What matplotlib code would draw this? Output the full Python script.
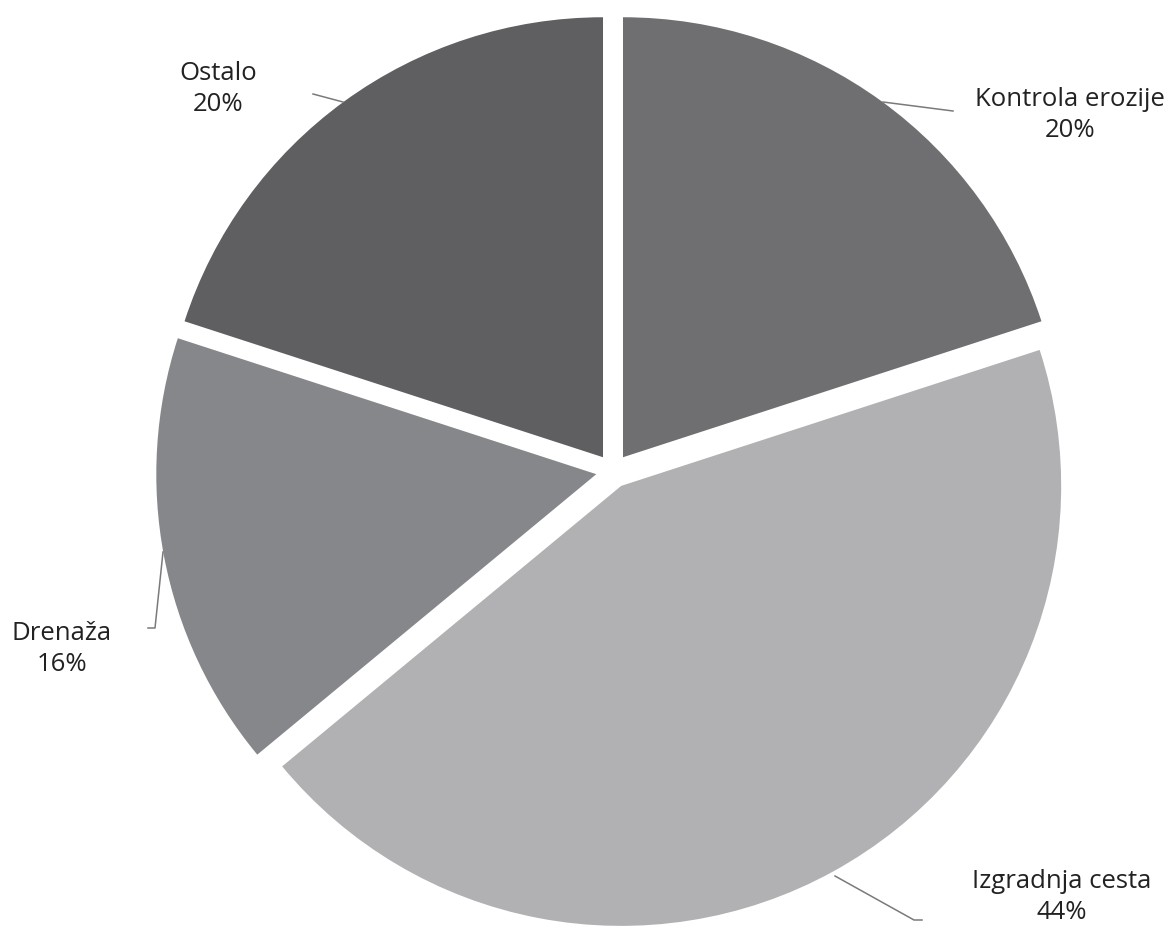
import matplotlib
matplotlib.use('agg')
import matplotlib.pyplot as plt

# shares of works (percent), clockwise from the top
labels = ['Kontrola erozije', 'Izgradnja cesta', 'Drenaža', 'Ostalo']
values = [20, 44, 16, 20]
colors = ['#6f6f71', '#b1b1b3', '#86878a', '#5f5f61']

W, H = 1174, 929

plt.rcParams['font.family'] = ['Open Sans', 'DejaVu Sans']

fig = plt.figure(figsize=(W / 100, H / 100), dpi=100)
ax = fig.add_axes([0, 0, 1, 1])

R = 440
# explode is in data units here (1 unit = 1 px)
ax.pie(values, colors=colors, startangle=90, counterclock=False,
       radius=R, center=(613, H - 472), explode=[17] * len(values),
       wedgeprops=dict(linewidth=0))

ax.set_xlim(0, W)
ax.set_ylim(0, H)
ax.set_aspect('equal')
ax.axis('off')


def fy(y):
    # picture rows to axis units
    return H - y


# label text centres and leader lines, in picture pixels
label_pos = [(1070, 115), (1062, 897), (62, 649), (218, 89)]
leaders = [
    [(883, 103), (953, 112)],
    [(835, 877), (914, 921), (922, 921)],
    [(148, 629), (155, 629), (163, 553)],
    [(313, 95), (343, 103)],
]

for name, v, (x, y), pts in zip(labels, values, label_pos, leaders):
    ax.text(x, fy(y), '%s\n%d%%' % (name, v), ha='center', va='center',
            fontsize=18.5, color='#222222', linespacing=1.3)
    ax.plot([p[0] for p in pts], [fy(p[1]) for p in pts],
            color='#7a7a7a', lw=1.1)

fig.savefig('out.png', dpi=100)
